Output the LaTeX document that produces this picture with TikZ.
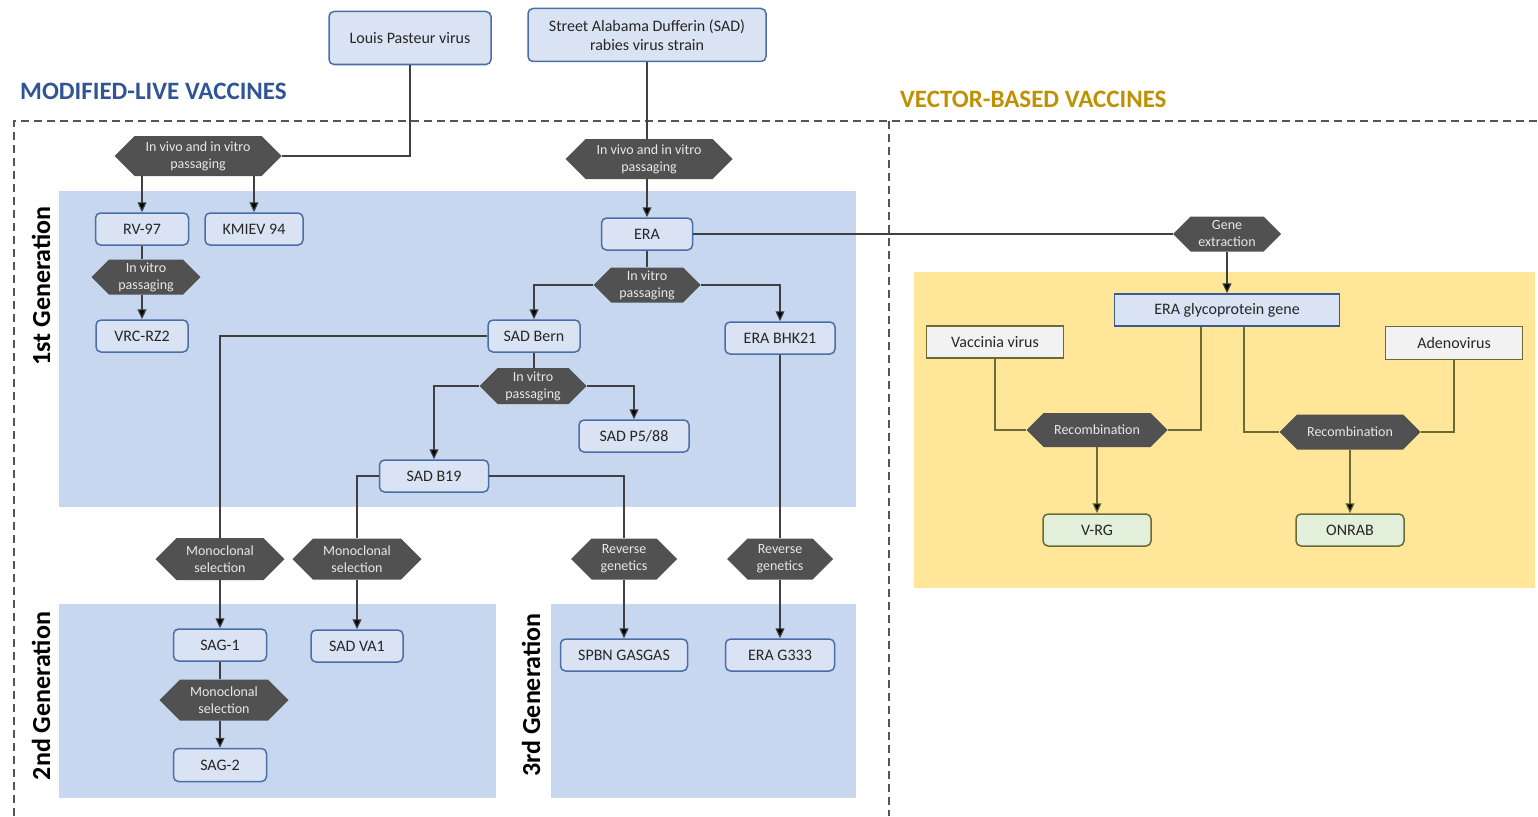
\documentclass[tikz,border=0pt]{standalone}
\usepackage{fontspec}
\setmainfont{Carlito}
\usetikzlibrary{shapes.symbols,arrows.meta}
\definecolor{panelblue}{HTML}{C6D7EF}
\definecolor{boxblue}{HTML}{DAE3F3}
\definecolor{boxline}{HTML}{4A6EA8}
\definecolor{boxtext}{HTML}{262626}
\definecolor{hexgrey}{HTML}{515151}
\definecolor{hextext}{HTML}{E8E8E8}
\definecolor{panelyellow}{HTML}{FFE699}
\definecolor{titleblue}{HTML}{2F5597}
\definecolor{titlegold}{HTML}{BF9000}
\definecolor{vecgrey}{HTML}{F2F2F2}
\definecolor{vecgreen}{HTML}{E2EFDA}
\definecolor{vecline}{HTML}{6B6B35}
\definecolor{glycoline}{HTML}{3A5A96}
\definecolor{linkgrey}{HTML}{404040}
\definecolor{dashgrey}{HTML}{555555}

\begin{document}
\begin{tikzpicture}
        [
        x = 1pt, y = -1pt,
        strain/.style = {draw=boxline, fill=boxblue, text=boxtext, rounded corners=5pt, line width=1.5pt, font=\fontsize{16}{19}\selectfont, align=center, minimum height=32pt, inner sep=1pt},
        hex node/.style = {shape=signal, signal to=west and east, signal pointer angle=90, fill=hexgrey, text=hextext, font=\fontsize{14}{17}\selectfont, align=center, inner sep=0pt},
        vector/.style = {draw=vecline, fill=vecgrey, text=boxtext, line width=1.5pt, font=\fontsize{16}{19}\selectfont, minimum height=32pt, inner sep=1pt},
        product/.style = {vector, fill=vecgreen, rounded corners=5pt},
        gen label/.style = {rotate=90, font=\bfseries\fontsize{26}{30}\selectfont},
        link/.style = {draw=linkgrey, line width=1.2pt},
        arrow link/.style = {link, -{Triangle[length=10pt, width=9pt, fill=black]}},
        vec link/.style = {link, draw=vecline},
        vec arrow/.style = {arrow link, draw=vecline},
        ]
        \useasboundingbox (0,0) rectangle (1538,816);

        % panels
        \fill[panelblue] (59,191) rectangle (856,507);
        \fill[panelblue] (59,604) rectangle (496,798);
        \fill[panelblue] (551,604) rectangle (856,798);
        \fill[panelyellow] (914,272) rectangle (1535,588);

        % dashed frame
        \draw[dashgrey, line width=1.3pt, dash pattern=on 8pt off 5pt] (14,816) -- (14,121) -- (1538,121);
        \draw[dashgrey, line width=1.3pt, dash pattern=on 8pt off 5pt] (889,121) -- (889,816);

        % titles
        \node[anchor=base west, text=titleblue, font=\bfseries\fontsize{25}{30}\selectfont, inner sep=0pt] (mlv) at (20,99) {MODIFIED-LIVE VACCINES};
        \node[anchor=base west, text=titlegold, font=\bfseries\fontsize{25}{30}\selectfont, inner sep=0pt] (vbv) at (900,107) {VECTOR-BASED VACCINES};
        \node[gen label] (gen1) at (41,286) {1st Generation};
        \node[gen label] (gen2) at (41,696) {2nd Generation};
        \node[gen label] (gen3) at (531,695) {3rd Generation};

        % parent strains
        \node[strain, minimum width=162pt, minimum height=53pt] (lp) at (410,38) {Louis Pasteur virus};
        \node[strain, minimum width=238pt, minimum height=53pt] (sad) at (647,35) {Street Alabama Dufferin (SAD)\\rabies virus strain};

        % 1st generation
        \node[hex node, minimum width=167pt, minimum height=40pt] (pass1) at (198,156) {In vivo and in vitro\\passaging};
        \node[hex node, minimum width=167pt, minimum height=40pt] (pass2) at (649,159) {In vivo and in vitro\\passaging};
        \node[strain, minimum width=93pt] (rv97) at (142,229) {RV-97};
        \node[strain, minimum width=98pt] (kmiev) at (254,229) {KMIEV 94};
        \node[hex node, minimum width=109pt, minimum height=35pt] (vitro1) at (146,277) {In vitro\\passaging};
        \node[strain, minimum width=92pt] (vrc) at (142,336) {VRC-RZ2};
        \node[strain, minimum width=91pt] (era) at (647,234) {ERA};
        \node[hex node, minimum width=107pt, minimum height=35pt] (vitro2) at (647,285) {In vitro\\passaging};
        \node[strain, minimum width=92pt] (bern) at (534,336) {SAD Bern};
        \node[strain, minimum width=110pt] (bhk) at (780,338) {ERA BHK21};
        \node[hex node, minimum width=107pt, minimum height=36pt] (vitro3) at (533,386) {In vitro\\passaging};
        \node[strain, minimum width=110pt] (p588) at (634,436) {SAD P5/88};
        \node[strain, minimum width=109pt] (b19) at (434,476) {SAD B19};

        % 2nd and 3rd generation
        \node[hex node, minimum width=129pt, minimum height=42pt] (mono1) at (220,559) {Monoclonal\\selection};
        \node[hex node, minimum width=129pt, minimum height=41pt] (mono2) at (357,559) {Monoclonal\\selection};
        \node[hex node, minimum width=106pt, minimum height=41pt] (rev1) at (624,559) {Reverse\\genetics};
        \node[hex node, minimum width=106pt, minimum height=41pt] (rev2) at (780,559) {Reverse\\genetics};
        \node[strain, minimum width=93pt] (sag1) at (220,645) {SAG-1};
        \node[strain, minimum width=92pt] (va1) at (357,646) {SAD VA1};
        \node[hex node, minimum width=129pt, minimum height=41pt] (mono3) at (224,700) {Monoclonal\\selection};
        \node[strain, minimum width=93pt, minimum height=33pt] (sag2) at (220,765) {SAG-2};
        \node[strain, minimum width=127pt] (spbn) at (624,655) {SPBN GASGAS};
        \node[strain, minimum width=109pt] (g333) at (780,655) {ERA G333};

        % vector-based
        \node[hex node, minimum width=108pt, minimum height=35pt] (gene) at (1227,234) {Gene\\extraction};
        \node[vector, draw=glycoline, fill=boxblue, minimum width=225pt] (glyco) at (1227,310) {ERA glycoprotein gene};
        \node[vector, minimum width=137pt] (vacc) at (995,342) {Vaccinia virus};
        \node[vector, minimum width=137pt, minimum height=33pt] (adeno) at (1454,343) {Adenovirus};
        \node[hex node, minimum width=141pt, minimum height=34pt] (recomb1) at (1097,430) {Recombination};
        \node[hex node, minimum width=141pt, minimum height=35pt] (recomb2) at (1350,432) {Recombination};
        \node[product, minimum width=108pt] (vrg) at (1097,530) {V-RG};
        \node[product, minimum width=108pt] (onrab) at (1350,530) {ONRAB};

        % connectors
        \draw[link] (lp.south) |- (pass1.east);
        \draw[arrow link] (rv97 |- pass1.south) -- (rv97.north);
        \draw[arrow link] (kmiev |- pass1.south) -- (kmiev.north);
        \draw[link] (rv97.south) -- (rv97 |- vitro1.north);
        \draw[arrow link] (vrc |- vitro1.south) -- (vrc.north);
        \draw[link] (sad.south) -- (sad.south |- pass2.north);
        \draw[arrow link] (era |- pass2.south) -- (era.north);
        \draw[link] (era.east) -- (gene.west);
        \draw[link] (era.south) -- (vitro2.north);
        \draw[arrow link] (vitro2.west) -| (bern.north);
        \draw[arrow link] (vitro2.east) -| (bhk.north);
        \draw[link] (bern.south) -- (bern.south |- vitro3.north);
        \draw[arrow link] (vitro3.west) -| (b19.north);
        \draw[arrow link] (vitro3.east) -| (p588.north);
        \draw[link] (bern.west) -| (mono1.north);
        \draw[link] (b19.west) -| (mono2.north);
        \draw[link] (b19.east) -| (rev1.north);
        \draw[link] (bhk.south) -- (rev2.north);
        \draw[arrow link] (mono1.south) -- (sag1.north);
        \draw[arrow link] (mono2.south) -- (va1.north);
        \draw[arrow link] (rev1.south) -- (spbn.north);
        \draw[arrow link] (rev2.south) -- (g333.north);
        \draw[link] (sag1.south) -- (sag1.south |- mono3.north);
        \draw[arrow link] (sag2 |- mono3.south) -- (sag2.north);

        \draw[arrow link] (gene.south) -- (glyco.north);
        \draw[vec link] (vacc.south) |- (recomb1.west);
        \draw[vec link] ([xshift=-26pt]glyco.south) |- (recomb1.east);
        \draw[vec link] ([xshift=17pt]glyco.south) |- (recomb2.west);
        \draw[vec link] (adeno.south) |- (recomb2.east);
        \draw[vec arrow] (recomb1.south) -- (vrg.north);
        \draw[vec arrow] (recomb2.south) -- (onrab.north);
\end{tikzpicture}
\end{document}
